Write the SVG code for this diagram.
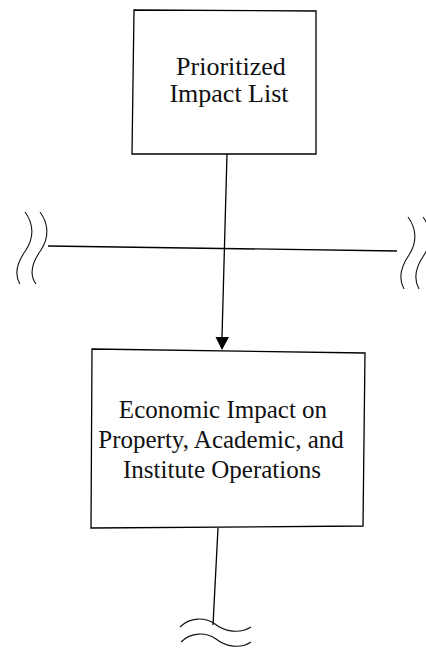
<svg xmlns="http://www.w3.org/2000/svg" width="426" height="650" viewBox="0 0 426 650">
  <style>
    .box { fill: #ffffff; stroke: #000000; stroke-width: 1.3; }
    .lbl { font-family: "Liberation Serif", "Times New Roman", serif; font-size: 25px; fill: #111111; text-anchor: middle; }
    .lbl.big { font-size: 26px; }
    .wire { fill: none; stroke: #000000; stroke-width: 1.3; }
    .brk { fill: none; stroke: #111111; stroke-width: 1.1; }
    .head { fill: #000000; }
  </style>
  <rect width="426" height="650" fill="#ffffff"/>

  <g id="connectors">
    <!-- boundary line with break marks at both ends -->
    <line class="wire" x1="48" y1="246" x2="397" y2="251"/>
    <path class="brk" d="M25,212 C34,224 34,238 26,250 C16,264 15,276 20,284"/>
    <path class="brk" d="M40,212 C49,224 49,238 41,250 C31,264 30,276 36,284"/>
    <path class="brk" d="M408,217 C417,229 417,243 409,255 C400,268 399,280 404,289"/>
    <path class="brk" d="M423,217 C432,229 432,243 424,255 C415,268 414,280 419,289"/>
    <!-- list to economic impact -->
    <line class="wire" x1="227" y1="154" x2="222" y2="337"/>
    <path class="head" d="M215.5,337 L229,337 L222,350 Z"/>
    <!-- continuation below, broken off -->
    <line class="wire" x1="218" y1="528" x2="213" y2="625"/>
    <path class="brk" d="M180,627 C190,617 205,617 215,624 C225,632 240,634 251,627"/>
    <path class="brk" d="M181,642 C191,632 206,632 216,639 C226,647 241,649 251,642"/>
  </g>

  <g id="prioritized-impact-list">
    <polygon class="box" points="134,10 316,11 316,154 132,154"/>
    <text class="lbl big" x="231" y="75">Prioritized</text>
    <text class="lbl big" x="229" y="102">Impact List</text>
  </g>

  <g id="economic-impact">
    <polygon class="box" points="92,349 365,353 363,526 91,528"/>
    <text class="lbl" x="223" y="418">Economic Impact on</text>
    <text class="lbl" x="221" y="448">Property, Academic, and</text>
    <text class="lbl" x="222" y="478">Institute Operations</text>
  </g>
</svg>
